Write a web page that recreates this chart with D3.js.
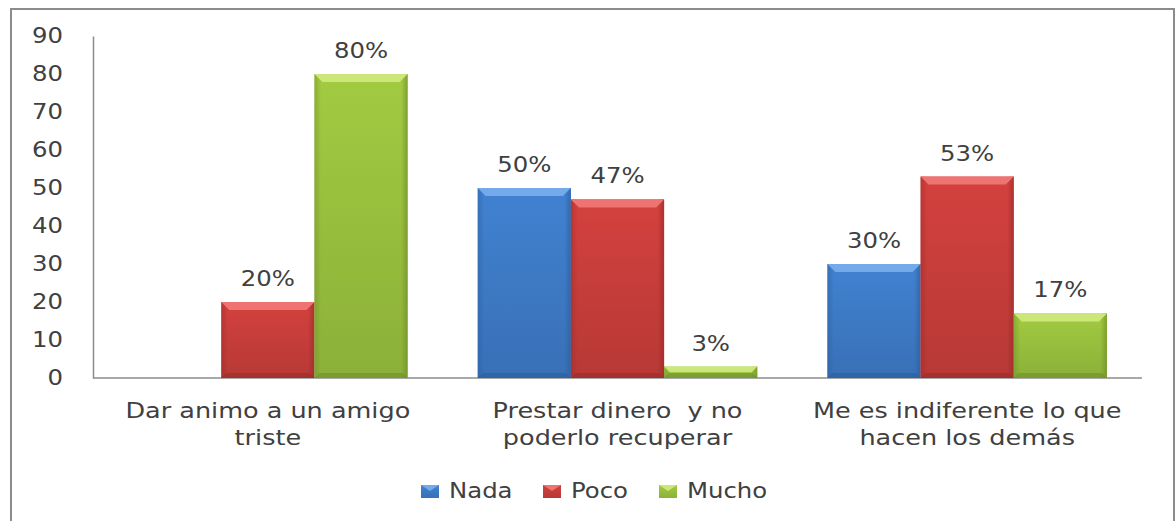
<!DOCTYPE html>
<html>
<head>
<meta charset="utf-8">
<script src="https://cdn.jsdelivr.net/npm/d3@7"></script>
<style>
  body { margin: 0; background: #fff; }
  text { font-family: "DejaVu Sans", sans-serif; fill: #404040; }
</style>
</head>
<body>
<div class="chart"></div>
<script>
// data
const categories = [
  ["Dar animo a un amigo", "triste"],
  ["Prestar dinero  y no", "poderlo recuperar"],
  ["Me es indiferente lo que", "hacen los demás"]
];
const seriesNames = ["Nada", "Poco", "Mucho"];
const nada  = [null, 50, 30];
const poco  = [20, 47, 53];
const mucho = [80, 3, 17];
const yTicks = [0, 10, 20, 30, 40, 50, 60, 70, 80, 90];

const colors = {
  Nada:  {top: "#74aaea", mid: "#3f7dca", dark: "#2a5f9f"},
  Poco:  {top: "#ef7471", mid: "#cc3f3c", dark: "#9c2b29"},
  Mucho: {top: "#cbe77a", mid: "#9cc43f", dark: "#6f8f2a"}
};

const W = 1176, H = 521;
const svg = d3.select(".chart").append("svg")
  .attr("width", W).attr("height", H);

// outer frame
svg.append("rect")
  .attr("x", 11).attr("y", 9)
  .attr("width", 1163).attr("height", 530)
  .attr("fill", "#fff").attr("stroke", "#8c8c8c").attr("stroke-width", 2);

const plot = {left: 93, right: 1142, top: 36, bottom: 378};

const y = d3.scaleLinear().domain([0, 90]).range([plot.bottom, plot.top]);
const x0 = d3.scaleBand().domain(d3.range(categories.length))
  .range([plot.left, plot.right]).padding(0);
const x1 = d3.scaleBand().domain(seriesNames)
  .range([0, x0.bandwidth()]).paddingInner(0).paddingOuter(0.376);

const stretch = 1.16; // text in the picture is horizontally widened

// gradients
const defs = svg.append("defs");
seriesNames.forEach(s => {
  const c = colors[s];
  const g = defs.append("linearGradient").attr("id", "g-" + s)
    .attr("x1", 0).attr("y1", 0).attr("x2", 0).attr("y2", 1);
  g.append("stop").attr("offset", "0%").attr("stop-color", d3.color(c.mid).brighter(0.1));
  g.append("stop").attr("offset", "100%").attr("stop-color", d3.color(c.mid).darker(0.3));
  const h = defs.append("linearGradient").attr("id", "h-" + s)
    .attr("x1", 0).attr("y1", 0).attr("x2", 1).attr("y2", 0);
  h.append("stop").attr("offset", "0%").attr("stop-color", c.dark).attr("stop-opacity", 0.5);
  h.append("stop").attr("offset", "7%").attr("stop-color", c.dark).attr("stop-opacity", 0);
  h.append("stop").attr("offset", "93%").attr("stop-color", c.dark).attr("stop-opacity", 0);
  h.append("stop").attr("offset", "100%").attr("stop-color", c.dark).attr("stop-opacity", 0.7);
});

// y axis
const yAxis = d3.axisLeft(y).tickValues(yTicks).tickSize(0).tickPadding(30);
const ya = svg.append("g").attr("transform", `translate(${plot.left},0)`).call(yAxis);
ya.select(".domain").attr("stroke", "#8c8c8c").attr("stroke-width", 1.5);
ya.selectAll(".tick text")
  .attr("font-size", 21).attr("fill", "#404040")
  .attr("font-family", "DejaVu Sans")
  .attr("transform", `scale(${stretch},1)`)
  .attr("x", -30 / stretch);

// x axis line
svg.append("line")
  .attr("x1", plot.left).attr("x2", plot.right)
  .attr("y1", y(0)).attr("y2", y(0))
  .attr("stroke", "#8c8c8c").attr("stroke-width", 1.5);

// bars
const rows = [];
categories.forEach((c, i) => {
  [nada, poco, mucho].forEach((arr, j) => {
    if (arr[i] != null) rows.push({cat: i, s: seriesNames[j], v: arr[i]});
  });
});

const bars = svg.append("g").selectAll("g.bar").data(rows).enter()
  .append("g").attr("class", "bar")
  .attr("transform", d => `translate(${x0(d.cat) + x1(d.s)},${y(d.v)})`);

bars.append("rect")
  .attr("width", x1.bandwidth())
  .attr("height", d => y(0) - y(d.v))
  .attr("fill", d => `url(#g-${d.s})`);
bars.append("rect")
  .attr("width", x1.bandwidth())
  .attr("height", d => y(0) - y(d.v))
  .attr("fill", d => `url(#h-${d.s})`);
// bevel top
bars.append("path")
  .attr("d", d => {
    const w = x1.bandwidth(), b = Math.min(8, (y(0) - y(d.v)) / 2);
    return `M0,0 H${w} L${w - b},${b} H${b} Z`;
  })
  .attr("fill", d => colors[d.s].top);
// bevel bottom
bars.append("path")
  .attr("d", d => {
    const w = x1.bandwidth(), h = y(0) - y(d.v), b = Math.min(5, h / 2);
    return `M0,${h} H${w} L${w - b},${h - b} H${b} Z`;
  })
  .attr("fill", d => colors[d.s].dark).attr("opacity", 0.6);

// value labels
svg.append("g").selectAll("text").data(rows).enter().append("text")
  .attr("transform", d => `translate(${x0(d.cat) + x1(d.s) + x1.bandwidth() / 2},${y(d.v) - 16}) scale(${stretch},1)`)
  .attr("text-anchor", "middle")
  .attr("font-size", 21)
  .text(d => d.v + "%");

// category labels
const cl = svg.append("g").selectAll("text").data(categories).enter().append("text")
  .attr("transform", (d, i) => `translate(${x0(i) + x0.bandwidth() / 2},418) scale(${stretch},1)`)
  .attr("text-anchor", "middle")
  .attr("font-size", 22);
cl.selectAll("tspan").data(d => d).enter().append("tspan")
  .attr("x", 0).attr("dy", (d, i) => i === 0 ? 0 : 27)
  .style("white-space", "pre")
  .text(d => d);

// legend
const legendX = [421, 543, 659];
const lg = svg.append("g").selectAll("g").data(seriesNames).enter().append("g")
  .attr("transform", (d, i) => `translate(${legendX[i]},485)`);
lg.append("rect").attr("width", 18).attr("height", 13)
  .attr("fill", d => `url(#g-${d})`);
lg.append("path").attr("d", "M0,0 H18 L9,6 Z").attr("fill", d => colors[d].top);
lg.append("text")
  .attr("transform", `translate(28,13) scale(${stretch},1)`)
  .attr("font-size", 21)
  .text(d => d);
</script>
</body>
</html>
